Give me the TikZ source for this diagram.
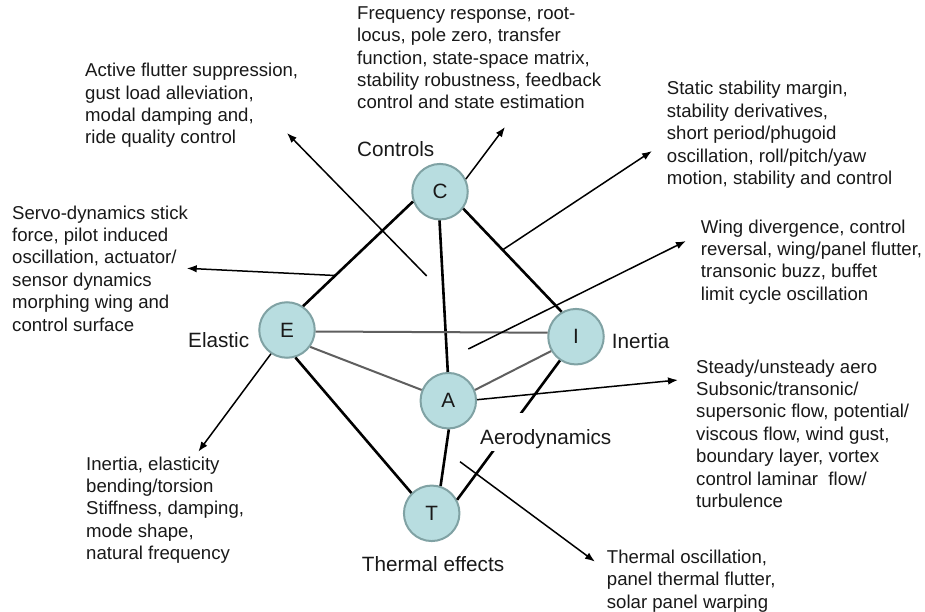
\documentclass[tikz,border=0pt]{standalone}
\usepackage{fontspec}
\setmainfont{Liberation Sans}
\usetikzlibrary{arrows.meta,calc}
\definecolor{nodefill}{RGB}{184,221,224}
\definecolor{nodeline}{RGB}{128,162,164}
\definecolor{txt}{RGB}{25,25,25}
\definecolor{softedge}{RGB}{95,95,95}
\begin{document}
\begin{tikzpicture}[x=1pt,y=-1pt,
  hub/.style={circle,draw=nodeline,line width=2pt,fill=nodefill,minimum size=55.5pt,
    inner sep=0pt,font=\fontsize{20.7}{24}\selectfont,text=txt},
  % multi-line notes are placed by the baseline of their last line
  note/.style={anchor=base west,align=left,inner sep=0pt,
    font=\fontsize{18.6}{22.4}\selectfont,text=txt},
  tag/.style={anchor=base west,inner sep=0pt,font=\fontsize{20.7}{24}\selectfont,text=txt},
  strong/.style={line width=2.6pt,black},
  soft/.style={line width=2pt,softedge},
  pointer/.style={line width=1.5pt,black,-{Latex[length=10pt,width=7.5pt]}}]
\useasboundingbox (0,0) rectangle (925,612);
\fill[white] (0,0) rectangle (925,612);

% the five disciplines
\node[hub] (C) at (440,191.7) {C};
\node[hub] (E) at (287,330) {E};
\node[hub] (I) at (576,336.7) {I};
\node[hub] (A) at (448.3,400.7) {A};
\node[hub] (T) at (431.7,513.3) {T};

% couplings between disciplines
\draw[strong] (E.56) -- (C.200);
\draw[strong] (C.269) -- (A.91);
\draw[strong] (C.324) -- (I.120);
\draw[strong] (E.287) -- (T.135);
\draw[strong] (A.271) -- (T.72);
\draw[strong] (I.236) -- (T.28);
\draw[soft] (E.357) -- (I.172);
\draw[soft] (E.324) -- (A.158);
\draw[soft] (A.22) -- (I.210);

% discipline names
\node[tag] (lc) at (357,157) {Controls};
\node[tag] (le) at (188,347) {Elastic};
\node[tag] (li) at (611.7,348) {Inertia};
\node[tag,fill=white,inner xsep=2pt,text height=31pt,text depth=7pt] (la) at (478,444) {Aerodynamics};
\node[tag] (lt) at (361.7,571.7) {Thermal effects};

% topic descriptions
\node[note] (nActive) at (85,143.9) {Active flutter suppression,\\gust load alleviation,\\modal damping and,\\ride quality control};
\node[note] (nFreq) at (357,108.9) {Frequency response, root-\\locus, pole zero, transfer\\function, state-space matrix,\\stability robustness, feedback\\control and state estimation};
\node[note] (nStatic) at (666.7,184.6) {Static stability margin,\\stability derivatives,\\short period/phugoid\\oscillation, roll/pitch/yaw\\motion, stability and control};
\node[note] (nWing) at (700.7,300.2) {Wing divergence, control\\reversal, wing/panel flutter,\\transonic buzz, buffet\\limit cycle oscillation};
\node[note] (nServo) at (12,331) {Servo-dynamics stick\\force, pilot induced\\oscillation, actuator/\\sensor dynamics\\morphing wing and\\control surface};
\node[note] (nSteady) at (696,507.4) {Steady/unsteady aero\\Subsonic/transonic/\\supersonic flow, potential/\\viscous flow, wind gust,\\boundary layer, vortex\\control laminar\ \ flow/\\turbulence};
\node[note] (nInert) at (86,559.6) {Inertia, elasticity\\bending/torsion\\Stiffness, damping,\\mode shape,\\natural frequency};
\node[note] (nTherm) at (606.7,608.1) {Thermal oscillation,\\panel thermal flutter,\\solar panel warping};

% pointer ends
\coordinate (tActive) at (426.7,276);
\coordinate (hActive) at (287,133);
\coordinate (hFreq) at (505,127);
\coordinate (tStatic) at ($(C.324)!0.4!(I.120)$);
\coordinate (hStatic) at (652,151);
\coordinate (tServo) at ($(E.56)!0.293!(C.200)$);
\coordinate (hServo) at (186.7,268.3);
\coordinate (tWing) at (468.3,349);
\coordinate (hWing) at (686,241);
\coordinate (hSteady) at (678,380);
\coordinate (hInert) at (198.3,451.7);
\coordinate (tTherm) at (460,461.7);
\coordinate (hTherm) at (595,561.7);

% pointers to the descriptions
\draw[pointer] (tActive) -- (hActive);
\draw[pointer] (C.26) -- (hFreq);
\draw[pointer] (tStatic) -- (hStatic);
\draw[pointer] (tServo) -- (hServo);
\draw[pointer] (tWing) -- (hWing);
\draw[pointer] (A.2) -- (hSteady);
\draw[pointer] (E.236) -- (hInert);
\draw[pointer] (tTherm) -- (hTherm);
\end{tikzpicture}
\end{document}
